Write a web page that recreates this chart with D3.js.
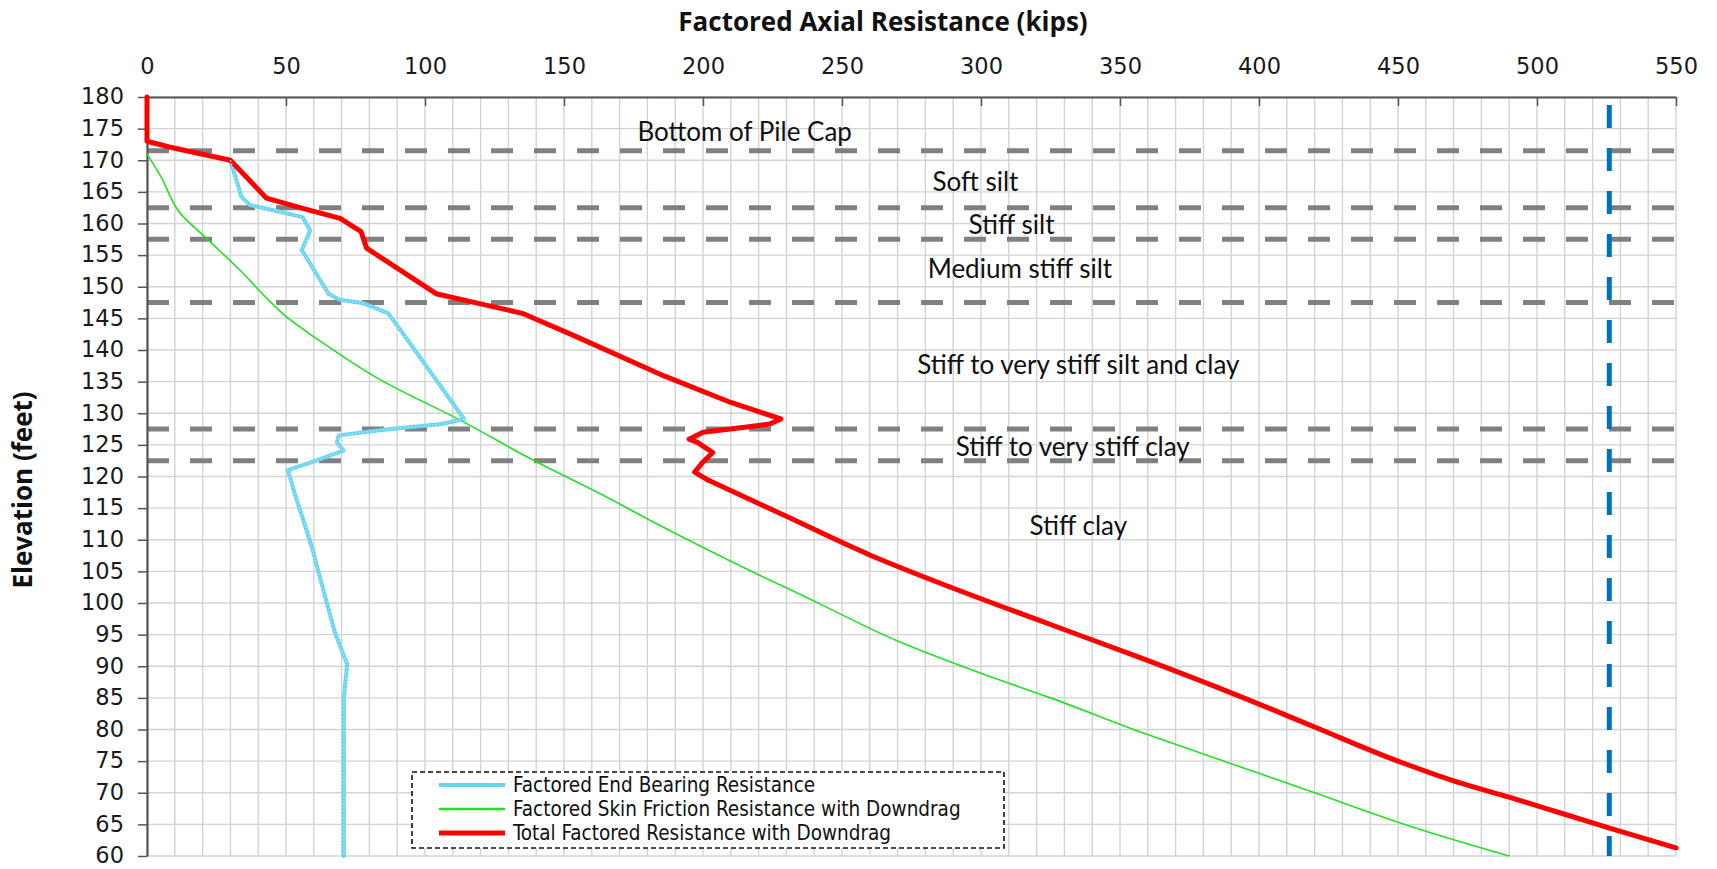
<!DOCTYPE html>
<html>
<head>
<meta charset="utf-8">
<script src="https://cdn.jsdelivr.net/npm/d3@7"></script>
<style>
  html, body { margin: 0; padding: 0; background: #fff; }
  svg { display: block; }
</style>
</head>
<body>
<div id="chart"></div>
<script>
// values: [kips, elevation in feet]
const endBearing = [
  [30, 170], [34, 164.2], [37, 162.9], [45.5, 162.1], [56, 161], [58.7, 158.9], [55.7, 155.8],
  [65.3, 148.9], [69, 148], [77.8, 147.4], [86.8, 145.8], [93.4, 141.8], [114, 129.1],
  [106, 128.3], [83.5, 127.3], [69, 126.5], [68.3, 125.4], [70.7, 124.1], [59.5, 122.3],
  [50.7, 121], [53, 117.5], [59.5, 108.6], [61, 106], [67.5, 95.5], [72, 90.3], [70.8, 85], [70.8, 60]
];
const skinFriction = [
  [0, 171], [5, 167.4], [12, 161.6], [22, 157.4], [33.5, 152.6], [43.5, 148], [50, 145.3],
  [62, 141.5], [83.5, 135.4], [114, 128.6], [138, 122.8], [166, 116.6], [183, 112.6],
  [210, 106.6], [240, 100.3], [270, 94], [300, 88.9], [325, 85], [360, 79.2], [390, 74.6],
  [420, 70], [458, 64.2], [490, 60]
];
const totalResistance = [
  [0, 180], [0, 173], [8, 172.1], [30, 170], [43, 164], [56, 162.4], [69.5, 160.8], [77, 158.7],
  [79, 156.1], [104, 148.9], [122, 147.1], [135, 145.8], [154, 142.2], [186, 135.9], [210, 131.7],
  [228, 129.1], [224, 128.3], [215, 127.8], [200, 127], [195, 125.9], [198, 125.4], [203.5, 123.8],
  [200, 122.3], [197, 120.7], [202, 119.4], [230, 113.7], [260, 107.6], [295, 101.5], [325, 96.6],
  [357, 91.4], [390, 85.8], [420, 80.4], [450, 75], [472, 71.6], [490, 69.3], [510, 66.6],
  [527, 64.3], [550, 61.3]
];
const layerBoundaries = [171.5, 162.5, 157.5, 147.5, 127.5, 122.5];
const layerLabels = [
  { text: 'Bottom of Pile Cap', x: 215, y: 174.5 },
  { text: 'Soft silt', x: 298, y: 166.6 },
  { text: 'Stiff silt', x: 311, y: 159.8 },
  { text: 'Medium stiff silt', x: 314, y: 152.8 },
  { text: 'Stiff to very stiff silt and clay', x: 335, y: 137.7 },
  { text: 'Stiff to very stiff clay', x: 333, y: 124.8 },
  { text: 'Stiff clay', x: 335, y: 112.2 }
];
const requiredLoad = 526;
const xTicks = [0, 50, 100, 150, 200, 250, 300, 350, 400, 450, 500, 550];
const yTicks = d3.range(60, 181, 5);
const legendItems = [
  { title: 'Factored End Bearing Resistance', key: 'end' },
  { title: 'Factored Skin Friction Resistance with Downdrag', key: 'skin' },
  { title: 'Total Factored Resistance with Downdrag', key: 'total' }
];

const width = 1717, height = 869;
const margin = { top: 97, right: 41, bottom: 13, left: 147 };
const w = width - margin.left - margin.right;
const h = height - margin.top - margin.bottom;

const styles = {
  end: { stroke: '#66d4f2', width: 4 },
  skin: { stroke: '#22e022', width: 1.6 },
  total: { stroke: '#ff0000', width: 5 }
};

const svg = d3.select('#chart').append('svg')
  .attr('width', width)
  .attr('height', height);

const g = svg.append('g')
  .attr('transform', 'translate(' + margin.left + ',' + margin.top + ')');

const x = d3.scaleLinear().domain([0, 550]).range([0, w]);
const y = d3.scaleLinear().domain([60, 180]).range([h, 0]);

// grid
g.append('g').selectAll('line')
  .data(d3.range(0, 551, 10))
  .enter().append('line')
  .attr('x1', d => x(d)).attr('x2', d => x(d))
  .attr('y1', 0).attr('y2', h)
  .attr('stroke', '#d3d3d3').attr('stroke-width', 1.4);
g.append('g').selectAll('line')
  .data(yTicks)
  .enter().append('line')
  .attr('x1', 0).attr('x2', w)
  .attr('y1', d => y(d)).attr('y2', d => y(d))
  .attr('stroke', '#d3d3d3').attr('stroke-width', 1.4);

// layer boundaries
g.append('g').selectAll('line')
  .data(layerBoundaries)
  .enter().append('line')
  .attr('x1', 0).attr('x2', w)
  .attr('y1', d => y(d)).attr('y2', d => y(d))
  .attr('stroke', '#808080')
  .attr('stroke-width', 5)
  .attr('stroke-dasharray', '22 21');

// required load line
g.append('line')
  .attr('x1', x(requiredLoad)).attr('x2', x(requiredLoad))
  .attr('y1', 0).attr('y2', h)
  .attr('stroke', '#0070c0')
  .attr('stroke-width', 5)
  .attr('stroke-dasharray', '23 20')
  .attr('stroke-dashoffset', -8);

// axes
const xAxis = g.append('g')
  .call(d3.axisTop(x).tickValues(xTicks).tickSizeInner(-9).tickSizeOuter(0));
const yAxis = g.append('g')
  .call(d3.axisLeft(y).tickValues(yTicks).tickSizeInner(9).tickSizeOuter(0).tickPadding(14));

[xAxis, yAxis].forEach(a => {
  a.select('.domain').attr('stroke', '#555').attr('stroke-width', 2.2);
  a.selectAll('.tick line').attr('stroke', '#555').attr('stroke-width', 1.5);
  a.selectAll('.tick text')
    .attr('fill', '#1a1a1a')
    .style('font-family', '"DejaVu Sans", sans-serif')
    .style('font-size', '22.5px');
});
yAxis.selectAll('.tick text').attr('dy', '0.3em');
xAxis.selectAll('.tick text').attr('dy', '0.36em').attr('y', -31);

// axis titles
svg.append('text')
  .text('Factored Axial Resistance (kips)')
  .attr('x', 883)
  .attr('y', 22)
  .attr('dy', '0.36em')
  .style('font-family', '"Open Sans", sans-serif')
  .style('font-weight', 700)
  .style('font-size', '26px')
  .style('fill', '#111')
  .style('text-anchor', 'middle');

svg.append('text')
  .text('Elevation (feet)')
  .attr('transform', 'translate(23,490) rotate(-90)')
  .attr('dy', '0.36em')
  .style('font-family', '"Open Sans", sans-serif')
  .style('font-weight', 700)
  .style('font-size', '26px')
  .style('fill', '#111')
  .style('text-anchor', 'middle');

// layer labels
g.append('g').selectAll('text')
  .data(layerLabels)
  .enter().append('text')
  .text(d => d.text)
  .attr('x', d => x(d.x))
  .attr('y', d => y(d.y))
  .attr('dy', '0.36em')
  .style('font-family', 'Lato, sans-serif')
  .style('font-size', '26px')
  .style('fill', '#111')
  .style('text-anchor', 'middle');

// series
// the total line breaks sharply down to el. 119.4 and is smooth below it,
// so it is drawn as a straight upper piece and a monotone lower piece
const straight = d3.line().x(d => x(d[0])).y(d => y(d[1]));
const smooth = d3.line().curve(d3.curveMonotoneY).x(d => x(d[0])).y(d => y(d[1]));
const breakElev = 119.4;
const pieces = [
  { key: 'skin', path: smooth(skinFriction) },
  { key: 'end', path: straight(endBearing) },
  { key: 'total', path: straight(totalResistance.filter(d => d[1] >= breakElev)) },
  { key: 'total', path: smooth(totalResistance.filter(d => d[1] <= breakElev)) }
];
g.append('g').selectAll('path')
  .data(pieces)
  .enter().append('path')
  .attr('d', d => d.path)
  .attr('fill', 'none')
  .attr('stroke', d => styles[d.key].stroke)
  .attr('stroke-width', d => styles[d.key].width)
  .attr('stroke-linejoin', 'round')
  .attr('stroke-linecap', 'round');

// dotted texture on end bearing line
g.append('path')
  .attr('d', straight(endBearing))
  .attr('fill', 'none')
  .attr('stroke', '#a3e8f9')
  .attr('stroke-width', 1.5)
  .attr('stroke-dasharray', '1.5 2');

// legend
const legend = svg.append('g').attr('transform', 'translate(412,772)');
legend.append('rect')
  .attr('width', 592).attr('height', 76)
  .attr('fill', '#fff')
  .attr('stroke', '#111')
  .attr('stroke-width', 1.6)
  .attr('stroke-dasharray', '5 3');
const rows = legend.selectAll('g.item')
  .data(legendItems)
  .enter().append('g')
  .attr('class', 'item')
  .attr('transform', (d, i) => 'translate(0,' + (13 + i * 24) + ')');
rows.append('line')
  .attr('x1', 27).attr('x2', 93)
  .attr('stroke', d => styles[d.key].stroke)
  .attr('stroke-width', d => d.key === 'skin' ? 2.5 : styles[d.key].width);
rows.append('text')
  .text(d => d.title)
  .attr('x', 101)
  .attr('dy', '0.36em')
  .style('font-family', '"DejaVu Sans Condensed", "DejaVu Sans", sans-serif')
  .style('font-stretch', 'condensed')
  .style('font-size', '20.5px')
  .style('fill', '#111');
</script>
</body>
</html>
